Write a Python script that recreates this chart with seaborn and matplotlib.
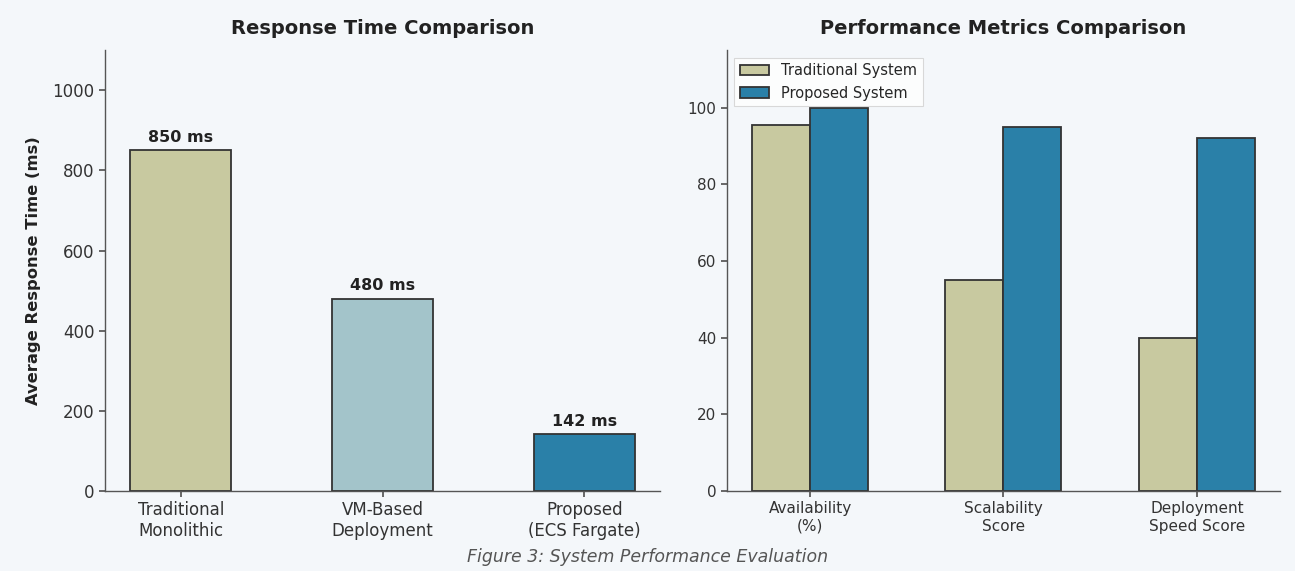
import matplotlib
matplotlib.use("Agg")
import matplotlib.pyplot as plt
import seaborn as sns
import pandas as pd

systems = ["Traditional\nMonolithic", "VM-Based\nDeployment", "Proposed\n(ECS Fargate)"]
response_ms = [850, 480, 142]
response_colors = ["#c8c9a0", "#a3c4ca", "#2a80a8"]

metrics = ["Availability\n(%)", "Scalability\nScore", "Deployment\nSpeed Score"]
traditional_scores = [95.5, 55, 40]
proposed_scores = [99.9, 95, 92]
series_names = ["Traditional System", "Proposed System"]
series_colors = ["#c8c9a0", "#2a80a8"]

bg = "#f4f7fa"
sns.set_theme(style="ticks")
plt.rcParams['font.family'] = ['DejaVu Sans']

fig = plt.figure(figsize=(12.95, 5.71), dpi=100, facecolor=bg)
ax1 = fig.add_axes([0.0811, 0.140, 0.4286, 0.772])
ax2 = fig.add_axes([0.5614, 0.140, 0.4270, 0.772])
for ax in (ax1, ax2):
    ax.set_facecolor(bg)

# Left chart
df1 = pd.DataFrame({"system": systems, "ms": response_ms})
sns.barplot(data=df1, x="system", y="ms", hue="system", palette=response_colors,
            saturation=1, width=0.5, edgecolor="#333333", linewidth=1.3,
            legend=False, ax=ax1)
for i, v in enumerate(response_ms):
    ax1.text(i, v + 14, f"{v} ms", ha="center", va="bottom", fontsize=11.5,
             fontweight="bold", color="#222222")
ax1.set_xlim(-0.375, 2.375)
ax1.set_ylim(0, 1100)
ax1.set_yticks([0, 200, 400, 600, 800, 1000])
ax1.set_xlabel("")
ax1.set_ylabel("Average Response Time (ms)", fontsize=11.8, fontweight="bold",
               color="#222222", labelpad=8)
ax1.set_title("Response Time Comparison", fontsize=14, fontweight="bold", pad=12, color="#222222")

# Right chart
df2 = pd.DataFrame({
    "metric": metrics * 2,
    "score": traditional_scores + proposed_scores,
    "series": [series_names[0]] * 3 + [series_names[1]] * 3,
})
sns.barplot(data=df2, x="metric", y="score", hue="series", palette=series_colors,
            saturation=1, width=0.6, gap=0, edgecolor="#333333", linewidth=1.3, ax=ax2)
ax2.set_xlim(-0.43, 2.43)
ax2.set_ylim(0, 115)
ax2.set_yticks([0, 20, 40, 60, 80, 100])
ax2.set_xlabel("")
ax2.set_ylabel("")
ax2.set_title("Performance Metrics Comparison", fontsize=14, fontweight="bold", pad=12, color="#222222")
leg = ax2.legend(loc="upper left", fontsize=10.5, frameon=True, fancybox=False,
                 facecolor="white", edgecolor="#d0d0d0", title=None,
                 borderaxespad=0.5)
leg.get_frame().set_linewidth(0.8)

for ax in (ax1, ax2):
    sns.despine(ax=ax)
    for s in ("left", "bottom"):
        ax.spines[s].set_color("#555555")
        ax.spines[s].set_linewidth(1.0)
    ax.tick_params(axis="both", colors="#555555", labelcolor="#333333", length=4)
ax1.tick_params(axis="y", labelsize=12)
ax1.tick_params(axis="x", labelsize=12)
ax2.tick_params(axis="y", labelsize=11)
ax2.tick_params(axis="x", labelsize=11)

fig.text(0.5, 0.025, "Figure 3: System Performance Evaluation", ha="center", va="center",
         fontsize=12.5, style="italic", color="#555555")

fig.savefig("out.png", dpi=100, facecolor=bg)
